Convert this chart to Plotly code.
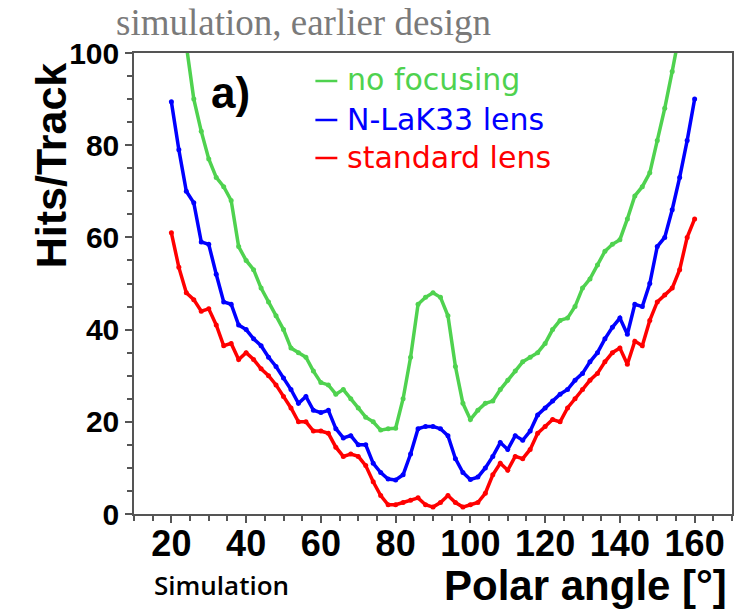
import plotly.graph_objects as go

angle = list(range(20, 161, 2))

no_focusing = [125, 113, 101, 90, 83, 77, 73, 71, 68, 58, 55, 53, 49, 46, 43, 40, 36, 35, 34, 31,
               28.5, 28, 26, 27, 25, 23, 21, 20, 18.2, 18.5, 18.6, 25, 34, 45.5, 47, 48, 47, 43, 32, 24,
               20.5, 22.5, 24, 24.5, 27, 29, 31, 33, 34, 35, 37, 40, 42, 42.5, 45, 49, 51, 54, 57, 58.5,
               59.5, 64, 69, 71, 74, 81, 88, 96, 104, 113, 125]

nlak33 = [89.4, 79, 70, 67.5, 59, 58.5, 52, 46, 45.5, 41, 40, 38, 36.5, 34, 32, 29.5, 27, 24, 25.5, 22.5,
          22, 22.5, 18.5, 16.5, 17, 15, 15, 11, 9, 7.6, 7.4, 8.5, 13, 18.5, 19, 19, 18.5, 17, 12, 9,
          7.5, 8, 10, 12.5, 15.5, 14, 17, 16, 18, 21.5, 23, 24.5, 26, 27, 29, 30.5, 33, 35, 38, 40.5,
          42.5, 39, 45.5, 45, 50, 58, 60, 66, 73, 81, 90]

standard = [61, 53.5, 48, 46.5, 44, 44.5, 41, 36.5, 37, 33.5, 35, 33.5, 31.5, 30, 28, 25.5, 23, 20, 20, 18,
            18, 17.5, 14.5, 12.5, 13, 12.5, 10.5, 7, 4, 2, 2, 2.5, 3, 3.5, 2, 1.5, 2.5, 4, 2.5, 1.5,
            2, 2.5, 4.5, 8.5, 11, 9.5, 12.5, 12, 14, 17.5, 19, 20.5, 20, 23, 25, 27, 29, 30.5, 33, 35,
            36, 32.5, 37.5, 36.5, 42, 46, 47.5, 49, 53, 60, 64]

series_names = ["no focusing", "N-LaK33 lens", "standard lens"]
series_colors = ["#4fd24f", "#0000ff", "#ff0000"]
series_values = [no_focusing, nlak33, standard]

W, H = 735, 609
L, R, T, B = 134, 1, 53, 95
PW, PH = W - L - R, H - T - B


def px(x):
    return (x - L) / PW


def py(y):
    return (H - B - y) / PH


fig = go.Figure()
for name, col, vals in zip(series_names, series_colors, series_values):
    fig.add_trace(go.Scatter(
        x=angle, y=vals, mode="lines+markers", name=name,
        line=dict(color=col, width=3.5),
        marker=dict(color=col, size=5),
        showlegend=False, cliponaxis=True))

axis_common = dict(
    showline=True, linecolor="#555555", linewidth=1.5, mirror=True,
    ticks="outside", ticklen=7, tickcolor="#555555", tickwidth=1.5,
    showgrid=False, zeroline=False,
)

fig.update_layout(
    width=W, height=H,
    margin=dict(l=L, r=R, t=T, b=B),
    paper_bgcolor="white", plot_bgcolor="white",
    xaxis=dict(range=[10, 170], tickvals=[20, 40, 60, 80, 100, 120, 140, 160],
               minor=dict(dtick=5, tick0=0, ticks="outside", ticklen=5, tickcolor="#555555"),
               tickfont=dict(family="Liberation Sans", size=36, color="black", weight="bold"),
               ticklabelstandoff=-10,
               **axis_common),
    yaxis=dict(range=[0, 100], tickvals=[0, 20, 40, 60, 80, 100],
               minor=dict(dtick=5, tick0=0, ticks="outside", ticklen=5, tickcolor="#555555"),
               tickfont=dict(family="Liberation Sans", size=30, color="black", weight="bold"),
               **axis_common),
)

ann = []
ann.append(dict(text="simulation, earlier design", x=px(304), y=py(22), xref="paper", yref="paper",
                showarrow=False, font=dict(family="Liberation Serif", size=37, color="#7a7a7a"),
                xanchor="center", yanchor="middle"))
ann.append(dict(text="Hits/Track", x=px(51), y=py(165), xref="paper", yref="paper", textangle=-90,
                showarrow=False, font=dict(family="Liberation Sans", size=43, color="black", weight="bold"),
                xanchor="center", yanchor="middle"))
ann.append(dict(text="Polar angle [°]", x=px(443), y=py(585), xref="paper", yref="paper",
                showarrow=False, font=dict(family="Liberation Sans", size=42, color="black", weight="bold"),
                xanchor="left", yanchor="middle"))
ann.append(dict(text="Simulation", x=px(152), y=py(585), xref="paper", yref="paper",
                showarrow=False, font=dict(family="Open Sans", size=26, color="black", weight=600),
                xanchor="left", yanchor="middle"))
ann.append(dict(text="a)", x=px(231), y=py(92), xref="paper", yref="paper",
                showarrow=False, font=dict(family="Liberation Sans", size=44, color="black", weight="bold"),
                xanchor="center", yanchor="middle"))

shapes = []
leg_y = [80, 119, 157]
for name, col, yy in zip(series_names, series_colors, leg_y):
    ann.append(dict(text=name, x=px(346), y=py(yy), xref="paper", yref="paper",
                    showarrow=False, font=dict(family="DejaVu Sans", size=30, color=col),
                    xanchor="left", yanchor="middle"))
    shapes.append(dict(type="line", xref="paper", yref="paper", x0=px(316), x1=px(338),
                       y0=py(yy + 1), y1=py(yy + 1), line=dict(color=col, width=2.5)))

fig.update_layout(annotations=ann, shapes=shapes)
fig.write_html("out.html")
